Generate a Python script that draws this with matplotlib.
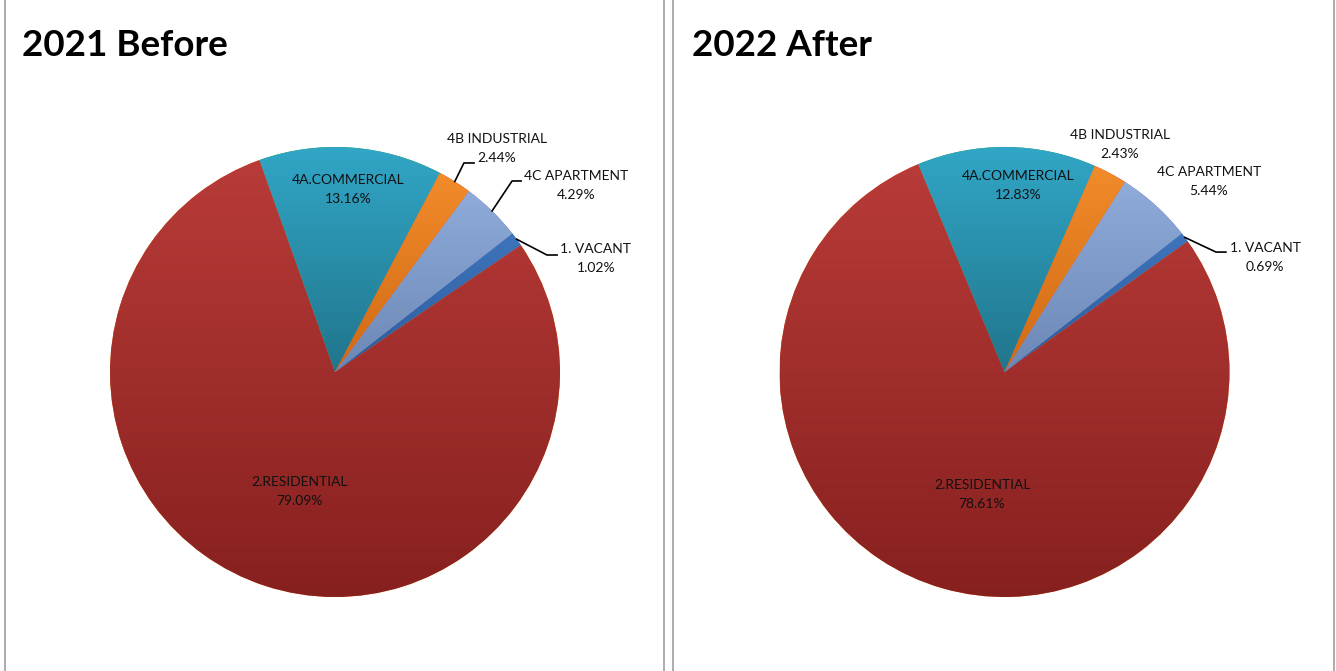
import numpy as np
import matplotlib.pyplot as plt
from matplotlib.colors import LinearSegmentedColormap
from matplotlib.lines import Line2D

plt.rcParams['font.family'] = ['Lato', 'DejaVu Sans']

categories = ['1. VACANT', '2.RESIDENTIAL', '4A.COMMERCIAL', '4B INDUSTRIAL', '4C APARTMENT']
share_2021 = [1.02, 79.09, 13.16, 2.44, 4.29]
share_2022 = [0.69, 78.61, 12.83, 2.43, 5.44]

# gradient colours per slice, top -> bottom
top_colors = ['#3e74bc', '#b83b38', '#31a6c6', '#f28b2a', '#8eabda']
bottom_colors = ['#2d5c9c', '#86201f', '#21758c', '#cf6a15', '#6c87b4']

W, H = 1336, 671
R = 225  # pie radius in px

# label layout in pie units (x, y); leader = (elbow, end) or None
layout_2021 = {
    '1. VACANT': ((1.16, 0.504), ((0.942, 0.52), (0.987, 0.52))),
    '2.RESIDENTIAL': ((-0.16, -0.533), None),
    '4A.COMMERCIAL': ((0.058, 0.809), None),
    '4B INDUSTRIAL': ((0.72, 0.993), ((0.573, 0.929), (0.618, 0.929))),
    '4C APARTMENT': ((1.071, 0.831), ((0.787, 0.849), (0.827, 0.849))),
}
layout_2022 = {
    '1. VACANT': ((1.158, 0.509), ((0.94, 0.533), (0.984, 0.533))),
    '2.RESIDENTIAL': ((-0.1, -0.544), None),
    '4A.COMMERCIAL': ((0.06, 0.831), None),
    '4B INDUSTRIAL': ((0.513, 1.011), None),
    '4C APARTMENT': ((0.909, 0.847), None),
}


def draw_pie(fig, cx, cy, values, title, title_x, layout):
    ax = fig.add_axes([(cx - R) / W, (H - cy - R) / H, 2 * R / W, 2 * R / H])
    wedges, _ = ax.pie(values, startangle=38, counterclock=False, radius=1,
                       wedgeprops=dict(linewidth=0))
    grad = np.linspace(0, 1, 256).reshape(-1, 1)
    for w, c0, c1 in zip(wedges, top_colors, bottom_colors):
        ext = w.get_path().get_extents()
        cmap = LinearSegmentedColormap.from_list('g', [c0, c1])
        im = ax.imshow(grad, cmap=cmap, extent=(ext.x0, ext.x1, ext.y0, ext.y1),
                       origin='upper', aspect='auto', interpolation='bilinear', zorder=2)
        im.set_clip_path(w)
    ax.set_xlim(-1, 1)
    ax.set_ylim(-1, 1)
    ax.set_aspect('equal')
    ax.axis('off')

    for w, name, v in zip(wedges, categories, values):
        (lx, ly), leader = layout[name]
        ax.text(lx, ly, f'{name}\n{v:.2f}%', ha='center', va='center', fontsize=10,
                linespacing=1.7, color='#111111', zorder=5, clip_on=False)
        if leader is not None:
            mid = np.deg2rad((w.theta1 + w.theta2) / 2)
            (ex, ey), (hx, hy) = leader
            ax.plot([np.cos(mid), ex, hx], [np.sin(mid), ey, hy], color='black',
                    lw=1.2, zorder=5, clip_on=False)

    fig.text(title_x / W, 1 - 45 / H, title, fontsize=26.5, fontweight='bold',
             ha='left', va='center')


fig = plt.figure(figsize=(W / 100, H / 100), dpi=100)
fig.patch.set_facecolor('white')

for x in [5, 664, 673, 1334]:
    fig.add_artist(Line2D([x / W, x / W], [0, 1], transform=fig.transFigure,
                          color='#a6a6a6', lw=1.3))

draw_pie(fig, 335, 372, share_2021, '2021 Before', 22, layout_2021)
draw_pie(fig, 1004.5, 372, share_2022, '2022 After', 692, layout_2022)

fig.savefig('out.png', dpi=100)
